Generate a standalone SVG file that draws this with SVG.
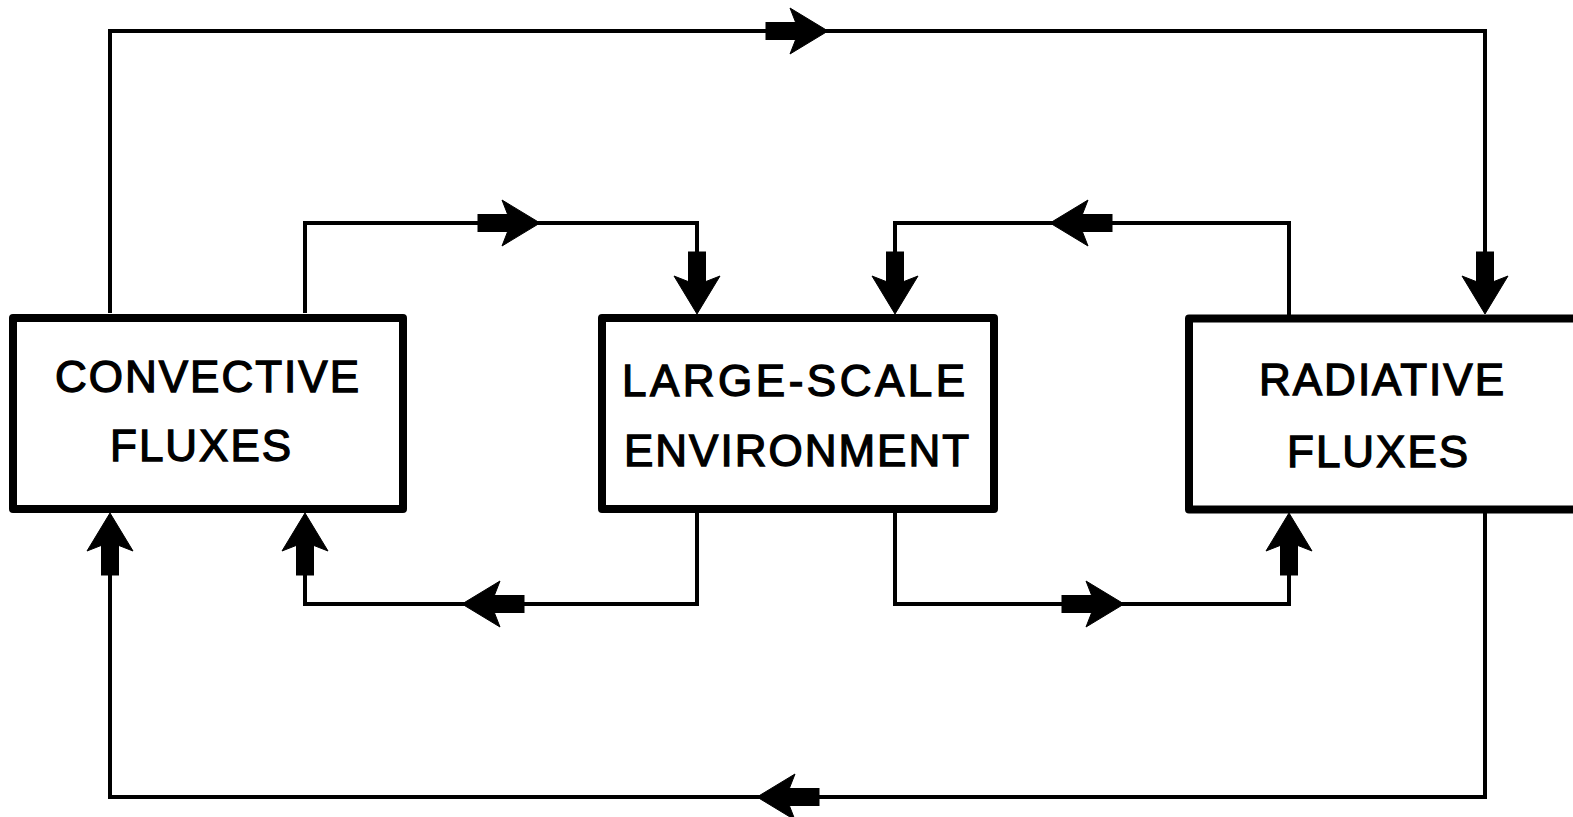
<svg xmlns="http://www.w3.org/2000/svg" xmlns:xlink="http://www.w3.org/1999/xlink" width="1573" height="817" viewBox="0 0 1573 817">
<style>
.box{fill:#fff;stroke:#000;stroke-width:8;stroke-linejoin:round}
.ln{fill:none;stroke:#000;stroke-width:4;stroke-linejoin:miter}
.lbl{font-family:"Liberation Sans",Arial,sans-serif;font-size:44px;letter-spacing:2px;fill:#000;stroke:#000;stroke-width:1.3}
.hd{fill:#000;stroke:#000;stroke-width:1;stroke-linejoin:miter}
</style>
<defs>
<g id="ar">
<polygon class="hd" points="0,0 -38,-23 -29,0 -38,23"/>
<rect class="hd" x="-62" y="-8.5" width="34" height="17"/>
</g>
</defs>
<rect width="1573" height="817" fill="#fff"/>
<g id="connectors">
<path class="ln" d="M110,313 V31 H1485 V312"/>
<path class="ln" d="M305,313 V223 H697 V312"/>
<path class="ln" d="M1289,315 V223 H895 V312"/>
<path class="ln" d="M697,512 V604 H305 V515"/>
<path class="ln" d="M895,512 V604 H1289 V515"/>
<path class="ln" d="M1485,512 V797 H110 V515"/>
<use xlink:href="#ar" transform="translate(828,31)"/>
<use xlink:href="#ar" transform="translate(1485,314) rotate(90)"/>
<use xlink:href="#ar" transform="translate(540,223)"/>
<use xlink:href="#ar" transform="translate(697,314) rotate(90)"/>
<use xlink:href="#ar" transform="translate(1050,223) rotate(180)"/>
<use xlink:href="#ar" transform="translate(895,314) rotate(90)"/>
<use xlink:href="#ar" transform="translate(462,604) rotate(180)"/>
<use xlink:href="#ar" transform="translate(305,513) rotate(-90)"/>
<use xlink:href="#ar" transform="translate(1124,604)"/>
<use xlink:href="#ar" transform="translate(1289,513) rotate(-90)"/>
<use xlink:href="#ar" transform="translate(757,797) rotate(180)"/>
<use xlink:href="#ar" transform="translate(110,513) rotate(-90)"/>
</g>
<g id="convective">
<rect class="box" x="13" y="318" width="390" height="191"/>
<text class="lbl" x="55" y="392">CONVECTIVE</text>
<text class="lbl" x="110" y="461">FLUXES</text>
</g>
<g id="large-scale">
<rect class="box" x="602" y="318" width="392" height="191"/>
<text class="lbl" x="622" y="396" style="letter-spacing:3.5px">LARGE-SCALE</text>
<text class="lbl" x="624" y="466">ENVIRONMENT</text>
</g>
<g id="radiative">
<rect class="box" x="1189" y="318.5" width="400" height="191"/>
<text class="lbl" x="1259" y="395">RADIATIVE</text>
<text class="lbl" x="1287" y="467">FLUXES</text>
</g>
</svg>
